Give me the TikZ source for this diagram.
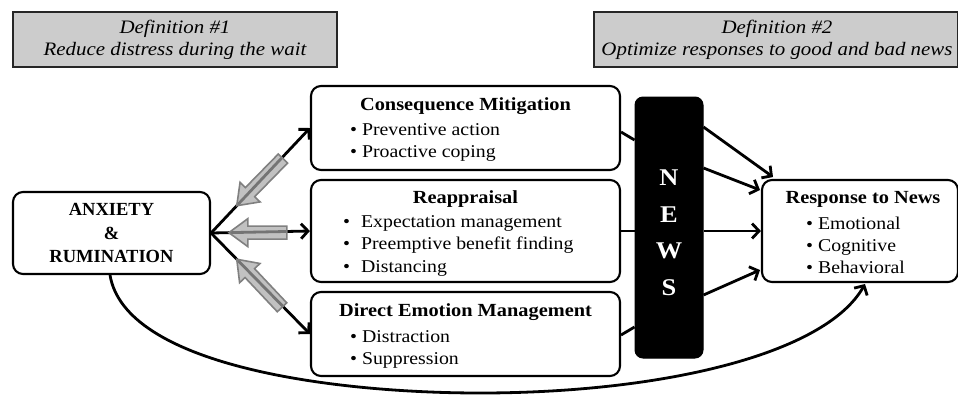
\documentclass[tikz,border=0pt]{standalone}
\usepackage{fontspec}
\setmainfont{Liberation Serif}[FakeStretch=1.1]
\newfontfamily\plainserif{Liberation Serif}
\usetikzlibrary{arrows.meta,calc}
\begin{document}
\begin{tikzpicture}[x=1pt,y=-1pt,
  box/.style={draw, line width=2.1pt, rounded corners=10pt, fill=white, inner sep=0pt},
  defbox/.style={draw=black!85, line width=2pt, fill=black!20, inner sep=0pt},
  newsbox/.style={draw=black, line width=1pt, fill=black, rounded corners=8pt, inner sep=0pt},
  conn/.style={line width=2.8pt, -{Straight Barb[length=7pt,width=15pt]}},
  plain/.style={line width=2.8pt},
  blockarr/.style={draw=black!50, line width=1.6pt, fill=black!35, fill opacity=0.7, line join=miter},
  deftext/.style={align=center, font=\fontsize{19}{22}\selectfont\itshape, inner sep=0pt},
  title/.style={font=\fontsize{18.5}{22}\selectfont\bfseries, inner sep=0pt},
  items/.style={align=left, anchor=west, font=\fontsize{18}{22}\selectfont, inner sep=0pt},
]
\useasboundingbox (0,0) rectangle (958,400);

% definition boxes
\node[defbox, minimum width=324pt, minimum height=55pt] (def1) at (175,39.5) {};
\node[deftext] (def1t) at (def1.center) {Definition \#1\\Reduce distress during the wait};
\node[defbox, minimum width=364pt, minimum height=55pt] (def2) at (776,39.5) {};
\node[deftext] (def2t) at (777,39.5) {Definition \#2\\Optimize responses to good and bad news};

% main boxes
\node[box, minimum width=197pt, minimum height=82pt] (anx) at (111.5,233) {};
\node[align=center, font=\plainserif\fontsize{18.5}{23.5}\selectfont\bfseries, inner sep=0pt] (anxt) at (anx.center) {ANXIETY\\\&\\RUMINATION};

\node[box, minimum width=309pt, minimum height=84pt] (cm) at (465.5,128) {};
\node[title] (cmt) at (465.5,106) {Consequence Mitigation};
\node[items] (cmi) at (350,142) {\textbullet\ Preventive action\\\textbullet\ Proactive coping};

\node[box, minimum width=309pt, minimum height=102pt] (ra) at (465.5,231) {};
\node[title] (rat) at (465.5,199) {Reappraisal};
\node[items, font=\fontsize{18}{22.5}\selectfont] (rai) at (343,245.5) {\textbullet\hspace{11pt}Expectation management\\\textbullet\hspace{11pt}Preemptive benefit finding\\\textbullet\hspace{11pt}Distancing};

\node[box, minimum width=309pt, minimum height=84pt] (dem) at (465.5,334) {};
\node[title] (demt) at (465.5,312) {Direct Emotion Management};
\node[items] (demi) at (350,349) {\textbullet\ Distraction\\\textbullet\ Suppression};

\node[newsbox, minimum width=68pt, minimum height=261pt] (news) at (669,227.5) {};
\node[align=center, text=white, font=\fontsize{24}{36.5}\selectfont\bfseries, inner sep=0pt] (newst) at (669,233) {N\\E\\W\\S};

\node[box, minimum width=196pt, minimum height=102pt] (resp) at (860,231) {};
\node[title] (respt) at (863,199) {Response to News};
\node[items] (respi) at (806,245) {\textbullet\ Emotional\\\textbullet\ Cognitive\\\textbullet\ Behavioral};

% fan arrows
\draw[conn] (anx.east) -- (cm.west);
\draw[conn] (anx.east) -- (ra.west);
\draw[conn] (anx.east) -- (dem.west);

% gray block arrows (pointing back to anxiety)
\coordinate (b1) at ($(anx.east)!0.26!(cm.west)$);
\coordinate (b2) at ($(anx.east)!0.18!(ra.west)$);
\coordinate (b3) at ($(anx.east)!0.26!(dem.west)$);
\begin{scope}[shift={(b1)}, rotate=225.6]
  \draw[blockarr] (0,0) -- (-19,14) -- (-19,6.5) -- (-66,6.5) -- (-66,-6.5) -- (-19,-6.5) -- (-19,-14) -- cycle;
\end{scope}
\begin{scope}[shift={(b2)}, rotate=180]
  \draw[blockarr] (0,0) -- (-19,14) -- (-19,6.5) -- (-58,6.5) -- (-58,-6.5) -- (-19,-6.5) -- (-19,-14) -- cycle;
\end{scope}
\begin{scope}[shift={(b3)}, rotate=133.3]
  \draw[blockarr] (0,0) -- (-19,14) -- (-19,6.5) -- (-66,6.5) -- (-66,-6.5) -- (-19,-6.5) -- (-19,-14) -- cycle;
\end{scope}

% lines into NEWS
\coordinate (nl1) at (news.west |- 0,140);
\coordinate (nl3) at (news.west |- 0,327);
\draw[plain] (cm.east |- 0,132) -- (nl1);
\draw[plain] (ra.east) -- (news.west |- ra.east);
\draw[plain] (dem.east |- 0,335) -- (nl3);

% arrows out of NEWS
\coordinate (no1) at (news.east |- 0,127);
\coordinate (no2) at (news.east |- 0,168);
\coordinate (no4) at (news.east |- 0,295);
\coordinate (r1) at (773,177);
\coordinate (r2) at (760,190);
\coordinate (r4) at (760,270);
\draw[conn] (no1) -- (r1);
\draw[conn] (no2) -- (r2);
\draw[conn] (news.east |- ra.east) -- (resp.west);
\draw[conn] (no4) -- (r4);

% long curve
\coordinate (cs) at (anx.south -| 110,0);
\coordinate (ce) at (865,284);
\draw[conn] (cs) .. controls (125,365) and (330,393) .. (480,393) .. controls (660,393) and (825,355) .. (ce);
\end{tikzpicture}
\end{document}
